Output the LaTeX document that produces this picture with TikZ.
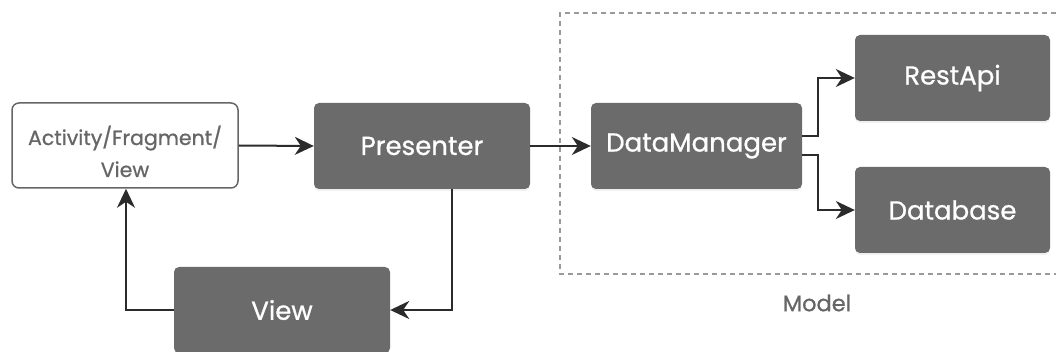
\documentclass[tikz,border=0pt]{standalone}
\usepackage{fontspec}
\setmainfont{Poppins}[FakeBold=0.8]
\usetikzlibrary{arrows.meta,shadows}
\definecolor{boxgray}{HTML}{6B6B6B}
\definecolor{txtgray}{HTML}{666666}
\definecolor{linegray}{HTML}{2B2B2B}
\definecolor{dashgray}{HTML}{9A9A9A}
\begin{document}
\begin{tikzpicture}[x=1pt,y=-1pt,
  darkbox/.style={draw=none,fill=boxgray,rounded corners=5pt,minimum width=#1,text=white,font=\fontsize{26}{28}\selectfont,inner sep=0pt,
    drop shadow={opacity=0.12,shadow xshift=0pt,shadow yshift=-2pt}},
  conn/.style={draw=linegray,line width=2pt,-{Stealth[length=19pt,width=18pt,inset=6pt]}}]
\useasboundingbox (0,0) rectangle (1056,352);
% dashed model region
\draw[dashgray,line width=1.5pt,dash pattern=on 5pt off 4pt] (1056,13) -- (560,13) -- (560,274) -- (1056,274);
\node[text=txtgray,font=\fontsize{22.5}{24}\selectfont] (modellbl) at (817,303) {Model};
% nodes
\node[draw=txtgray,line width=1.5pt,rounded corners=7pt,fill=white,minimum width=226pt,minimum height=85pt,inner sep=0pt] (act) at (125,145.5) {};
\node[text=txtgray,align=center,font=\fontsize{20.5}{32}\selectfont,inner sep=0pt,anchor=base] (acttxt) at (125,177) {Activity/Fragment/\\View};
\node[darkbox=216pt,minimum height=86pt] (pres) at (422,146) {Presenter};
\node[darkbox=211pt,minimum height=86pt] (dm) at (696.5,146) {DataManager};
\node[darkbox=195pt,minimum height=86pt] (rest) at (952.5,78) {RestApi};
\node[darkbox=195pt,minimum height=86pt] (db) at (952.5,210) {Database};
\node[darkbox=216pt,minimum height=86pt] (view) at (282,310) {View};
% connectors
\coordinate (pb) at (452,189);
\coordinate (vl) at (126,310);
\coordinate (dmr1) at (802,136);
\coordinate (dmr2) at (802,155);
\draw[conn] (act.east) -- (pres.west);
\draw[conn] (pres.east) -- (dm.west);
\draw[conn] (dmr1) -- (818,136) |- (rest.west);
\draw[conn] (dmr2) -- (818,155) |- (db.west);
\draw[conn] (pb) |- (view.east);
\draw[conn] (view.west) -| (act.south -| vl);
\end{tikzpicture}
\end{document}
